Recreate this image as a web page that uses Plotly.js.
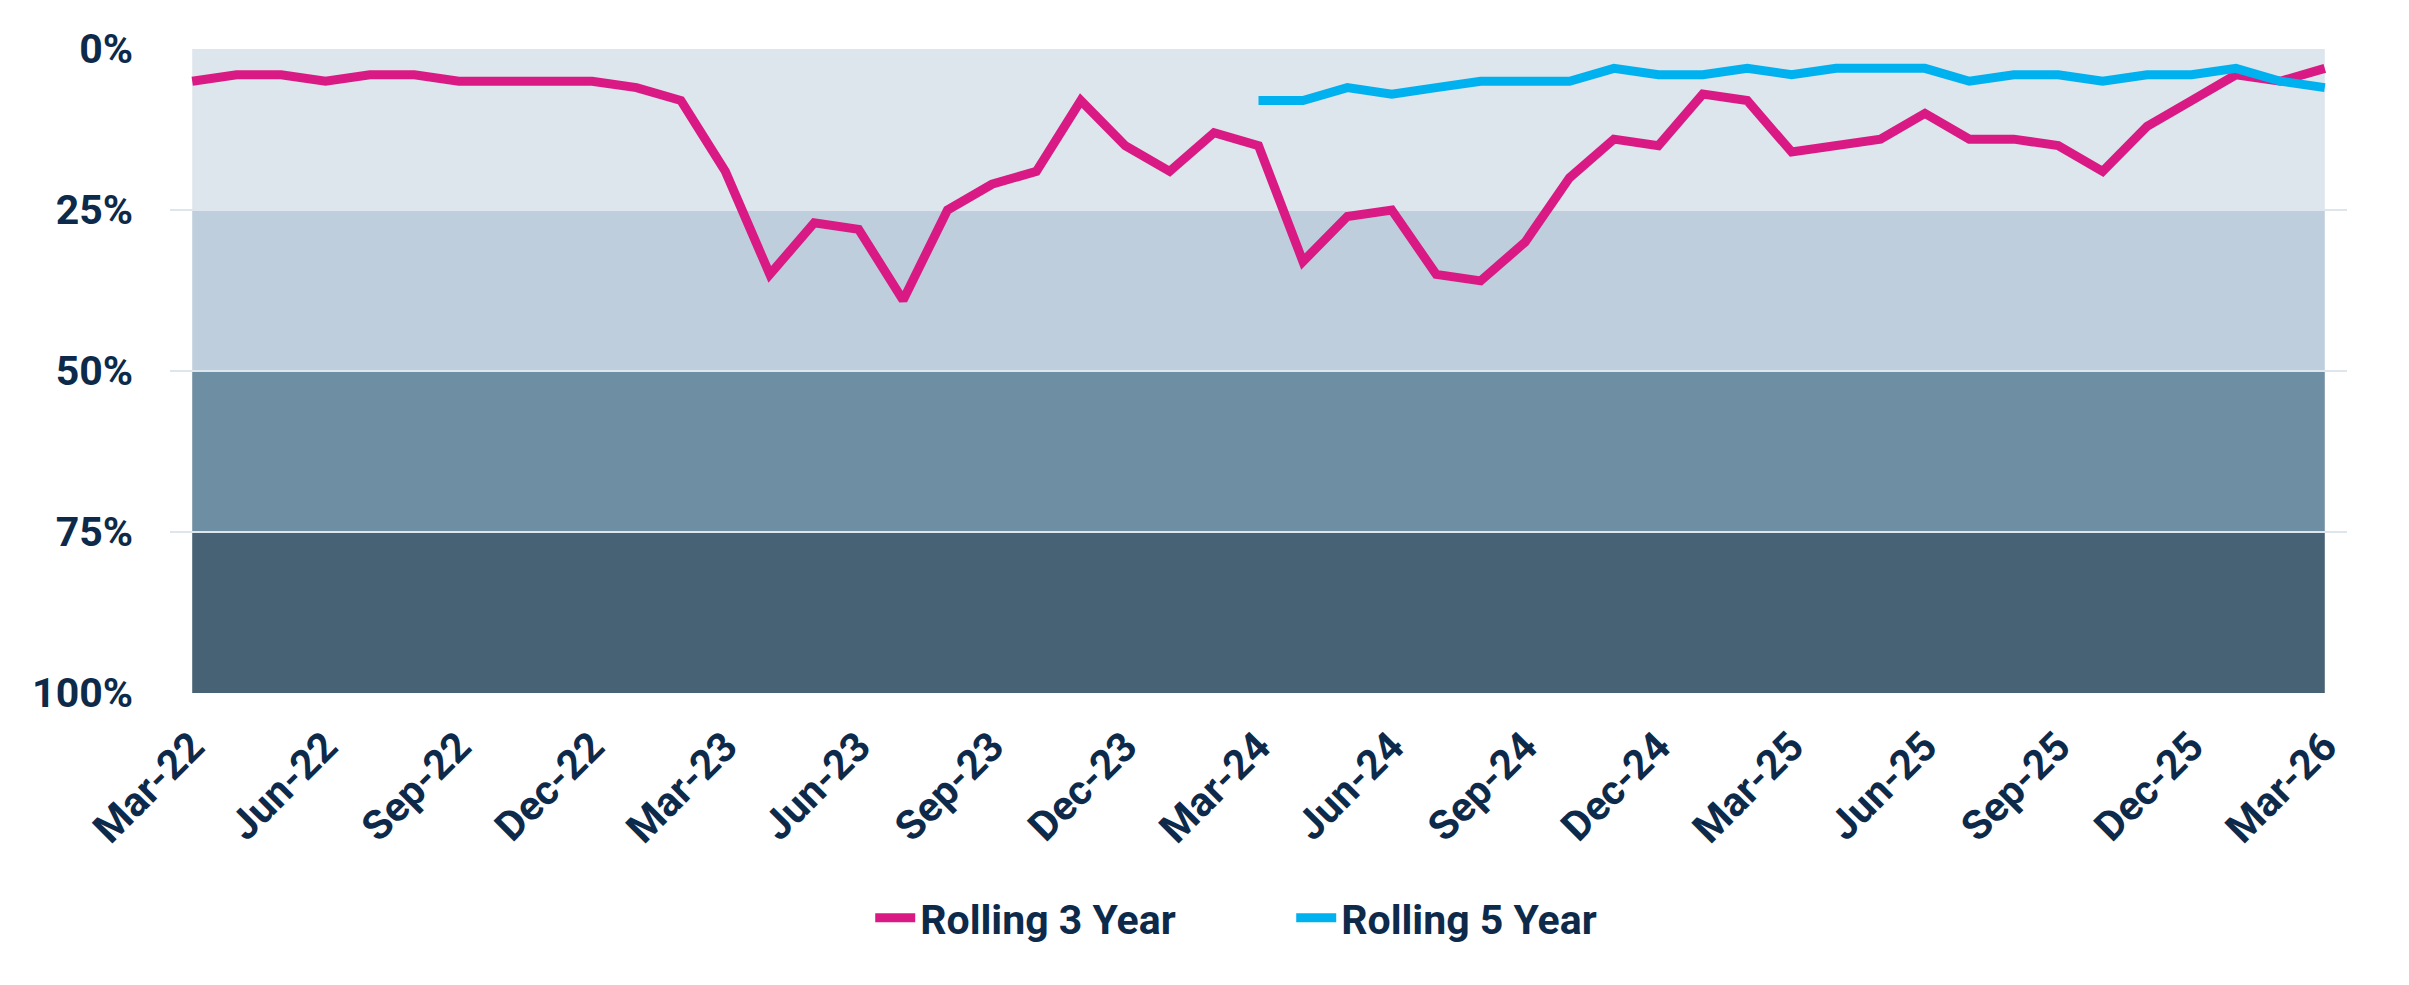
<!DOCTYPE html>
<html>
<head>
<meta charset="utf-8">
<script src="https://cdn.plot.ly/plotly-3.0.1.min.js"></script>
<style>
  html, body { margin: 0; padding: 0; background: #ffffff; }
  #chart { width: 2409px; height: 985px; }
</style>
</head>
<body>
<div id="chart"></div>
<script>
// Monthly points, Mar-22 .. Mar-26
const MONTHS = [
    'Mar-22','Apr-22','May-22','Jun-22','Jul-22','Aug-22','Sep-22','Oct-22','Nov-22','Dec-22',
    'Jan-23','Feb-23','Mar-23','Apr-23','May-23','Jun-23','Jul-23','Aug-23','Sep-23','Oct-23','Nov-23','Dec-23',
    'Jan-24','Feb-24','Mar-24','Apr-24','May-24','Jun-24','Jul-24','Aug-24','Sep-24','Oct-24','Nov-24','Dec-24',
    'Jan-25','Feb-25','Mar-25','Apr-25','May-25','Jun-25','Jul-25','Aug-25','Sep-25','Oct-25','Nov-25','Dec-25',
    'Jan-26','Feb-26','Mar-26'
];

// percentile rank, 0% best
const ROLLING_3Y = [
    5, 4, 4, 5, 4, 4, 5, 5, 5, 5,
    6, 8, 19, 35, 27, 28, 39, 25, 21, 19, 8, 15,
    19, 13, 15, 33, 26, 25, 35, 36, 30, 20, 14, 15,
    7, 8, 16, 15, 14, 10, 14, 14, 15, 19, 12, 8,
    4, 5, 3
];

const ROLLING_5Y = [
    null, null, null, null, null, null, null, null, null, null,
    null, null, null, null, null, null, null, null, null, null, null, null,
    null, null, 8, 8, 6, 7, 6, 5, 5, 5, 3, 4,
    4, 3, 4, 3, 3, 3, 5, 4, 4, 5, 4, 4,
    3, 5, 6
];

const TICK_LABELS = MONTHS.filter((m, i) => i % 3 === 0);
const Y_TICKS = [0, 25, 50, 75, 100];
const Y_LABELS = ['0%', '25%', '50%', '75%', '100%'];

// quartile bands
const BAND_EDGES  = [0, 25, 50, 75, 100];
const BAND_COLORS = ['#dde5ed', '#bfcedc', '#6e8fa3', '#476274'];

const TEXT = '#0d2a4b';
const FONT = { family: 'Roboto, Arial, sans-serif', size: 41, color: TEXT, weight: 700 };

const shapes = BAND_COLORS.map((c, i) => ({
    type: 'rect', layer: 'below', xref: 'x', yref: 'y',
    x0: 0, x1: MONTHS.length - 1,
    y0: BAND_EDGES[i], y1: BAND_EDGES[i + 1],
    fillcolor: c, line: { width: 0 }
}));

const traces = [
    {
        type: 'scatter', mode: 'lines', name: 'Rolling 3 Year',
        x: MONTHS, y: ROLLING_3Y,
        line: { color: '#da1a84', width: 9 },
        hoverinfo: 'x+y'
    },
    {
        type: 'scatter', mode: 'lines', name: 'Rolling 5 Year',
        x: MONTHS, y: ROLLING_5Y,
        line: { color: '#00b1f0', width: 9 },
        connectgaps: false,
        hoverinfo: 'x+y'
    }
];

const layout = {
    width: 2409, height: 985,
    margin: { l: 170, r: 62, t: 49, b: 292 },
    paper_bgcolor: '#ffffff',
    plot_bgcolor: '#ffffff',
    font: FONT,
    showlegend: true,
    legend: {
        orientation: 'h',
        xref: 'container', yref: 'container',
        x: 0.536, xanchor: 'center',
        y: 0.068, yanchor: 'middle',
        font: FONT,
        itemwidth: 40,
        entrywidth: 366,
        tracegroupgap: 0
    },
    xaxis: {
        type: 'category',
        range: [-0.5, MONTHS.length - 0.5],
        tickmode: 'array',
        tickvals: TICK_LABELS,
        ticktext: TICK_LABELS,
        tickangle: -45,
        tickfont: FONT,
        showgrid: false,
        zeroline: false,
        showline: false,
        ticks: '',
        ticklabelstandoff: 20
    },
    yaxis: {
        range: [100, 0],
        tickmode: 'array',
        tickvals: Y_TICKS,
        ticktext: Y_LABELS,
        tickfont: FONT,
        showgrid: true,
        gridcolor: '#dfe5ec',
        gridwidth: 2,
        zeroline: false,
        showline: false,
        ticks: '',
        ticklabelstandoff: 36
    },
    shapes
};

Plotly.newPlot('chart', traces, layout, { displayModeBar: false, responsive: false });
</script>
</body>
</html>
